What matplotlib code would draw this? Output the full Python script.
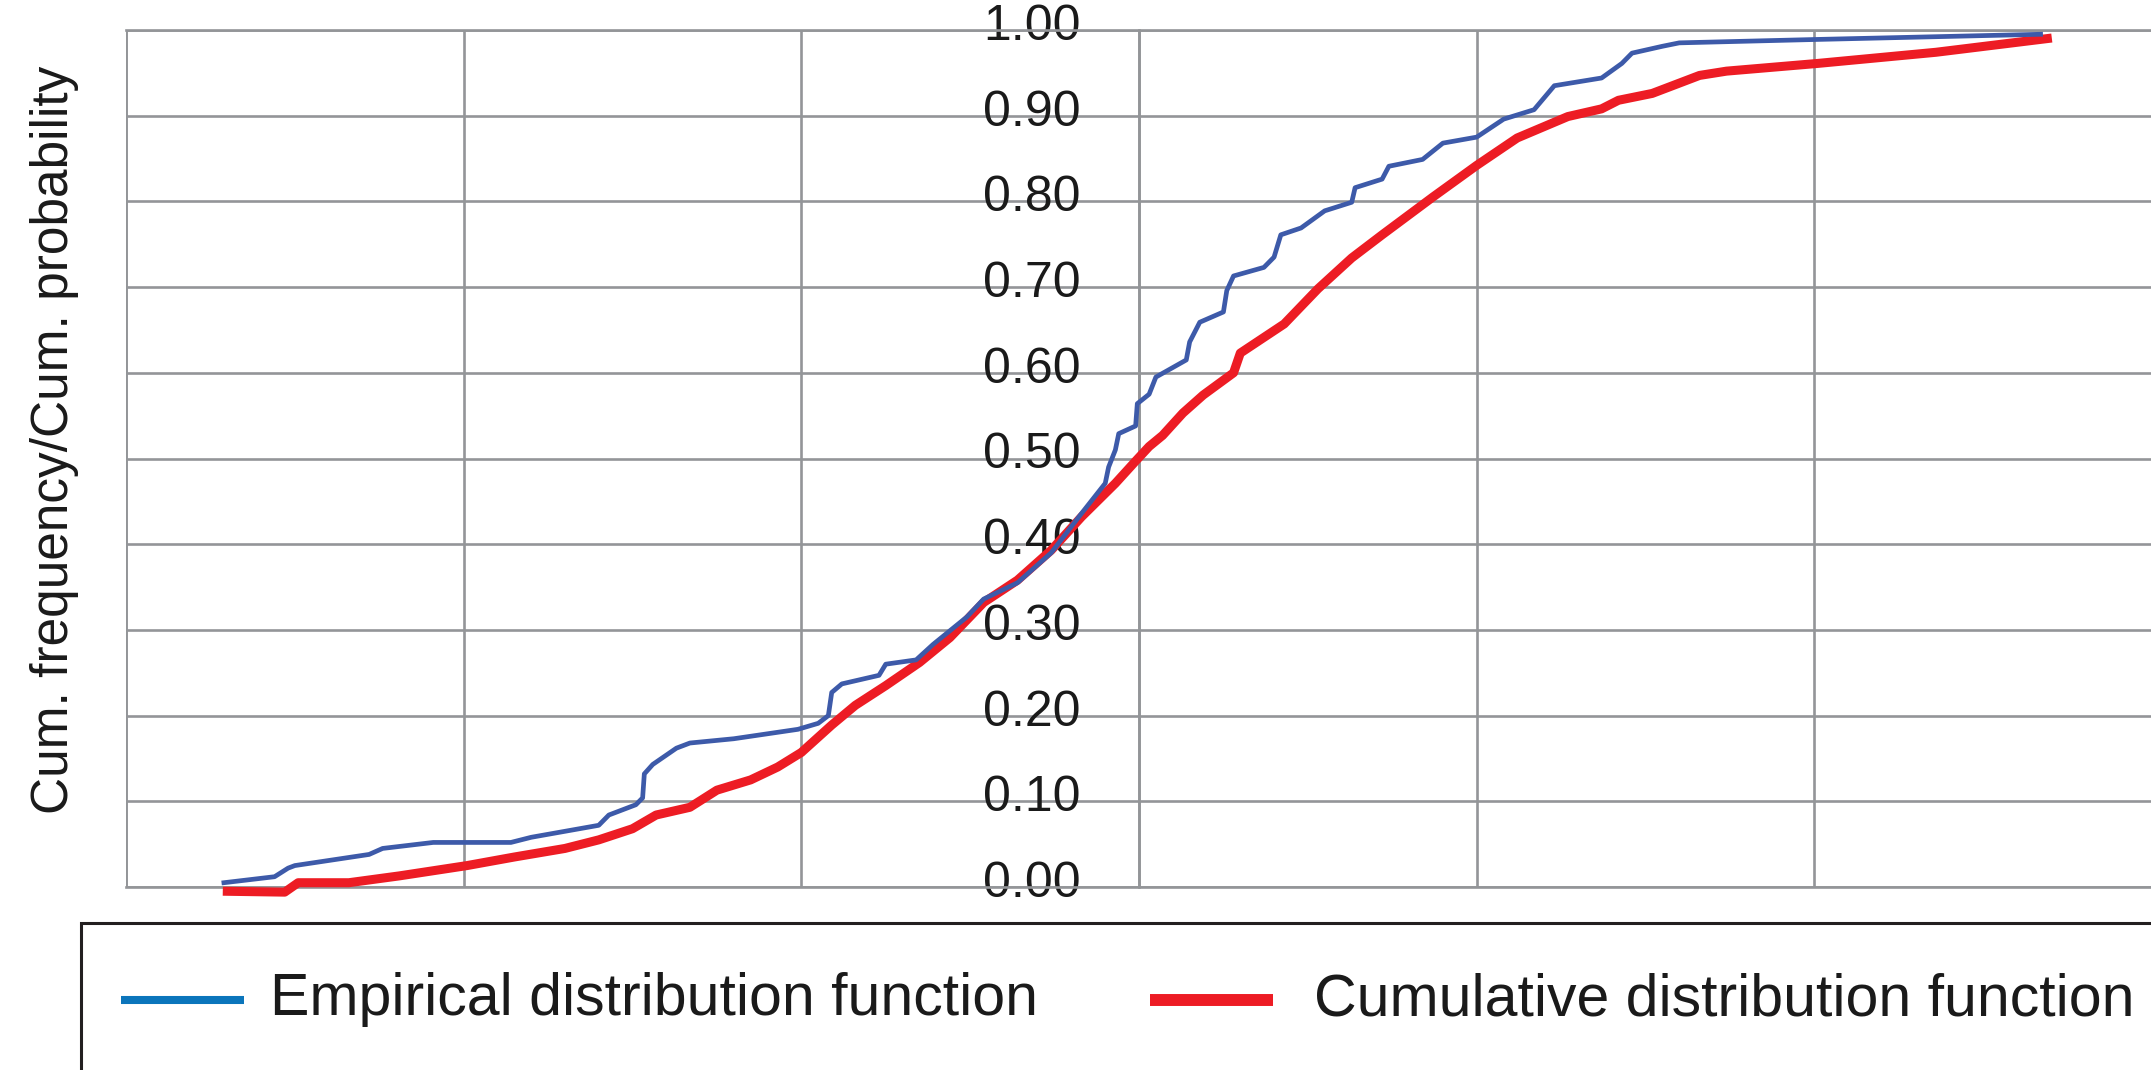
import matplotlib
matplotlib.use("Agg")
import matplotlib.pyplot as plt
import matplotlib.transforms as mtransforms
from matplotlib.patches import Rectangle
from matplotlib.lines import Line2D
import numpy as np

plt.rcParams['font.family'] = ['Liberation Sans', 'DejaVu Sans']

# empirical distribution function (standardised x, cumulative frequency)
emp_x = [-2.71, -2.56, -2.52, -2.50, -2.28, -2.24, -2.09, -1.99, -1.86, -1.80,
         -1.70, -1.60, -1.57, -1.49, -1.47, -1.465, -1.44, -1.37, -1.33, -1.20,
         -1.01, -0.95, -0.92, -0.91, -0.88, -0.77, -0.75, -0.66, -0.61, -0.51,
         -0.46, -0.36, -0.26, -0.17, -0.10, -0.09, -0.07, -0.06, -0.01, -0.005,
         0.03, 0.05, 0.14, 0.15, 0.18, 0.25, 0.26, 0.28, 0.37, 0.40,
         0.42, 0.48, 0.55, 0.63, 0.64, 0.72, 0.74, 0.84, 0.90, 1.00,
         1.08, 1.17, 1.23, 1.37, 1.43, 1.46, 1.55, 1.60, 2.01, 2.67]
emp_y = [0.005, 0.012, 0.022, 0.025, 0.038, 0.045, 0.052, 0.052, 0.052, 0.058,
         0.065, 0.072, 0.084, 0.096, 0.104, 0.132, 0.143, 0.162, 0.168, 0.173,
         0.184, 0.191, 0.200, 0.227, 0.237, 0.247, 0.260, 0.265, 0.283, 0.315,
         0.336, 0.355, 0.390, 0.436, 0.471, 0.490, 0.510, 0.529, 0.538, 0.564,
         0.575, 0.595, 0.615, 0.636, 0.659, 0.671, 0.696, 0.713, 0.723, 0.735,
         0.761, 0.769, 0.789, 0.799, 0.816, 0.826, 0.841, 0.849, 0.868, 0.875,
         0.896, 0.907, 0.935, 0.944, 0.961, 0.973, 0.981, 0.985, 0.989, 0.995]

# fitted cumulative distribution function
cdf_x = [-2.70, -2.53, -2.49, -2.34, -2.19, -1.99, -1.85, -1.70, -1.60, -1.50,
         -1.43, -1.33, -1.25, -1.15, -1.07, -1.00, -0.91, -0.84, -0.75, -0.65,
         -0.56, -0.46, -0.36, -0.26, -0.17, -0.07, -0.01, 0.03, 0.07, 0.13,
         0.19, 0.28, 0.30, 0.43, 0.53, 0.63, 0.72, 0.87, 1.00, 1.12,
         1.27, 1.37, 1.42, 1.52, 1.66, 1.74, 2.01, 2.36, 2.69]
cdf_y = [-0.005, -0.006, 0.005, 0.005, 0.013, 0.025, 0.035, 0.045, 0.055, 0.068,
         0.084, 0.093, 0.113, 0.125, 0.140, 0.157, 0.189, 0.212, 0.235, 0.262,
         0.291, 0.332, 0.358, 0.393, 0.432, 0.471, 0.497, 0.514, 0.527, 0.553,
         0.574, 0.600, 0.623, 0.657, 0.698, 0.734, 0.761, 0.805, 0.842, 0.874,
         0.899, 0.908, 0.918, 0.926, 0.947, 0.952, 0.961, 0.974, 0.990]

labels = ['Empirical distribution function', 'Cumulative distribution function']
y_ticks = np.round(np.arange(0, 1.01, 0.1), 2)
x_ticks = [-3, -2, -1, 0, 1, 2, 3]

grid_col = '#939598'
emp_col = '#3d5aa9'
cdf_col = '#ed1c24'
legend_blue = '#0b75bb'
text_col = '#1a1a1a'

W, H = 2151, 1070
fig = plt.figure(figsize=(W / 100, H / 100), dpi=100)
ax = fig.add_axes([126 / W, 1 - 887 / H, 2026 / W, 857 / H])

ax.plot(cdf_x, cdf_y, color=cdf_col, lw=6.5, clip_on=False, zorder=3,
        solid_joinstyle='round')
ax.plot(emp_x, emp_y, color=emp_col, lw=3.4, clip_on=False, zorder=4,
        solid_joinstyle='round')

# y axis crosses at x = 0 (set before ticks: this resets the axis)
ax.spines['left'].set_position(('data', 0))
for s in ['left', 'top', 'bottom']:
    ax.spines[s].set_color(grid_col)
    ax.spines[s].set_linewidth(1.9)
ax.spines['right'].set_visible(False)

ax.set_xlim(-3, 3)
ax.set_ylim(0, 1)
ax.set_xticks(x_ticks)
ax.set_xticklabels([])
ax.set_yticks(y_ticks)
ax.set_yticklabels(['%.2f' % v for v in y_ticks])
ax.tick_params(axis='both', length=0)
ax.tick_params(axis='y', pad=42, labelsize=36, labelcolor=text_col)
ax.grid(True, color=grid_col, lw=1.9)
ax.set_axisbelow(True)
# left frame line at x=-3
ax.axvline(-3, color=grid_col, lw=1.9, zorder=1)

shift = mtransforms.ScaledTranslation(0, 0.08, fig.dpi_scale_trans)
for lab in ax.get_yticklabels():
    lab.set_transform(lab.get_transform() + shift)

fig.text(55 / W, 1 - 440 / H, 'Cum. frequency/Cum. probability', rotation=90,
         ha='center', va='center', fontsize=37, color=text_col)

# legend box (cropped at right and bottom like the source)
fig.patches.append(Rectangle((81 / W, 1 - 1120 / H), 2200 / W, 197 / H,
                             transform=fig.transFigure, fill=False,
                             edgecolor='#231f20', lw=2.2))
fig.lines.append(Line2D([121 / W, 244 / W], [1 - 1000 / H] * 2,
                        transform=fig.transFigure, color=legend_blue, lw=5.8,
                        solid_capstyle='butt'))
fig.lines.append(Line2D([1150 / W, 1273 / W], [1 - 1000 / H] * 2,
                        transform=fig.transFigure, color=cdf_col, lw=8.6,
                        solid_capstyle='butt'))
fig.text(270 / W, 1 - 1015 / H, labels[0], ha='left', va='baseline',
         fontsize=42.5, color=text_col)
fig.text(1314 / W, 1 - 1015 / H, labels[1], ha='left', va='baseline',
         fontsize=42.5, color=text_col)

fig.savefig('out.png', dpi=100)
